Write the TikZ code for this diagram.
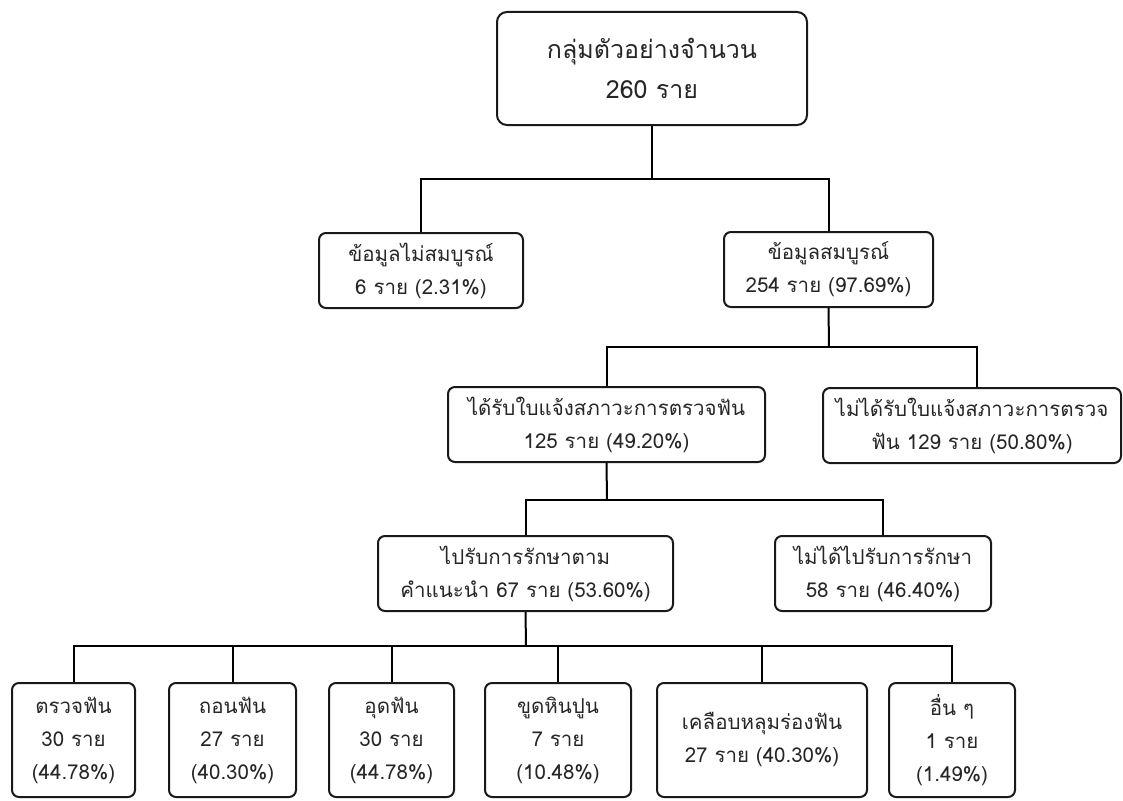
\documentclass[tikz,border=0pt]{standalone}
\usepackage{fontspec}
\setmainfont[Script=Thai]{Loma}
\begin{document}
\begin{tikzpicture}[x=1pt,y=-1pt,
  box/.style={draw=black!90, line width=2pt, rounded corners=7pt, align=center, inner sep=0pt,
    font=\fontsize{20.5}{33}\selectfont, text=black!85},
  conn/.style={draw=black, line width=2pt}]
\useasboundingbox (0,0) rectangle (1123,800);
% nodes
\node[box, rounded corners=10pt, minimum width=310pt, minimum height=113pt,
  font=\fontsize{25}{40}\selectfont] (top) at (652,68.5) {กลุ่มตัวอย่างจำนวน\\260 ราย};
\node[box, minimum width=204pt, minimum height=75pt] (l2a) at (421,270.5) {ข้อมูลไม่สมบูรณ์\\6 ราย (2.31\%)};
\node[box, minimum width=209pt, minimum height=75pt] (l2b) at (828.5,269.5) {ข้อมูลสมบูรณ์\\254 ราย (97.69\%)};
\node[box, minimum width=317pt, minimum height=75pt] (l3a) at (606.5,424.5) {ได้รับใบแจ้งสภาวะการตรวจฟัน\\125 ราย (49.20\%)};
\node[box, minimum width=298pt, minimum height=75pt] (l3b) at (972,425.5) {ไม่ได้รับใบแจ้งสภาวะการตรวจ\\ฟัน 129 ราย (50.80\%)};
\node[box, minimum width=295pt, minimum height=75pt] (l4a) at (525.5,573.5) {ไปรับการรักษาตาม\\คำแนะนำ 67 ราย (53.60\%)};
\node[box, minimum width=216pt, minimum height=75pt] (l4b) at (883,573.5) {ไม่ได้ไปรับการรักษา\\58 ราย (46.40\%)};
\node[box, minimum width=123pt, minimum height=114pt] (b1) at (73.5,740) {ตรวจฟัน\\30 ราย\\(44.78\%)};
\node[box, minimum width=127pt, minimum height=114pt] (b2) at (232.5,740) {ถอนฟัน\\27 ราย\\(40.30\%)};
\node[box, minimum width=125pt, minimum height=114pt] (b3) at (391.5,740) {อุดฟัน\\30 ราย\\(44.78\%)};
\node[box, minimum width=146pt, minimum height=114pt] (b4) at (558,740) {ขูดหินปูน\\7 ราย\\(10.48\%)};
\node[box, minimum width=210pt, minimum height=114pt] (b5) at (762,740) {เคลือบหลุมร่องฟัน\\27 ราย (40.30\%)};
\node[box, minimum width=126pt, minimum height=114pt] (b6) at (952,740) {อื่น ๆ\\1 ราย\\(1.49\%)};
% junctions
\coordinate (h1) at (652,179);
\coordinate (h2) at (829,347);
\coordinate (h3) at (607,500);
\coordinate (h4) at (526,646);
% connectors
\draw[conn] (top.south) -- (h1);
\draw[conn] (l2a.north) |- (h1) -| (l2b.north);
\draw[conn] (l2b.south) -- (h2);
\draw[conn] (l3a.north) |- (h2) -| ([xshift=5pt]l3b.north);
\draw[conn] (l3a.south) -- (h3);
\draw[conn] (l4a.north) |- (h3) -| (l4b.north);
\draw[conn] (l4a.south) -- (h4);
\draw[conn] (b1.north) |- (h4) -| (b6.north);
\draw[conn] (b2.north) -- (b2.north |- h4);
\draw[conn] (b3.north) -- (b3.north |- h4);
\draw[conn] (b4.north) -- (b4.north |- h4);
\draw[conn] (b5.north) -- (b5.north |- h4);
\end{tikzpicture}
\end{document}
